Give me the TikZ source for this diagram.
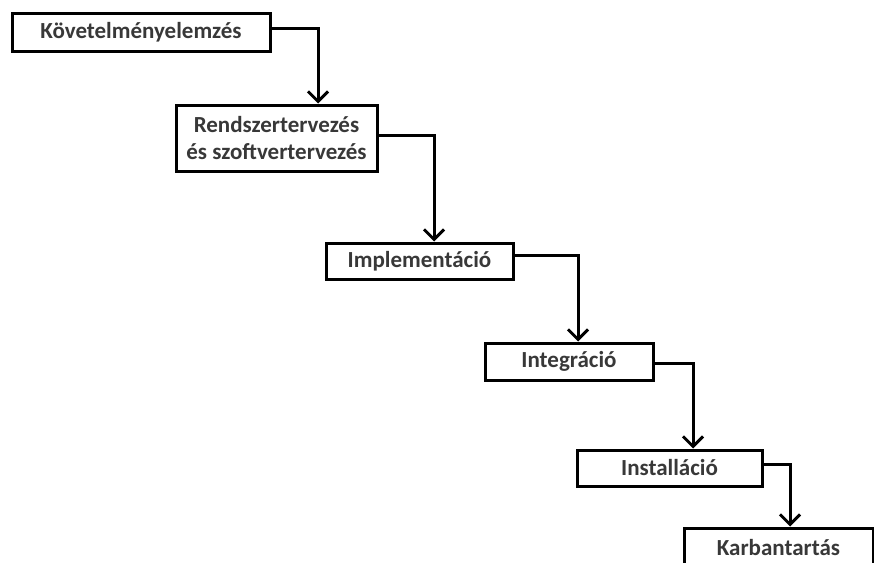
\documentclass[tikz,border=0pt]{standalone}
\usepackage{fontspec}
\setmainfont{Carlito}
\usetikzlibrary{arrows.meta}
\begin{document}
\begin{tikzpicture}[x=1pt,y=-1pt,
  stage/.style={draw=black, line width=3pt, fill=white, inner sep=0pt, align=center,
    text=black!78, font=\bfseries\fontsize{23}{27}\selectfont},
  arr/.style={draw=black, line width=3pt, -{Straight Barb[length=10pt,width=20pt,line width=3pt]}}]
\clip (0,0) rectangle (874,562);
\useasboundingbox (0,0) rectangle (874,562);
\node[stage, minimum width=258pt, minimum height=38pt] (b1) at (141,32) {Követelményelemzés};
\node[stage, minimum width=201pt, minimum height=66pt] (b2) at (276.5,138) {Rendszertervezés\\és szoftvertervezés};
\node[stage, minimum width=187pt, minimum height=36pt] (b3) at (419.5,261) {Implementáció};
\node[stage, minimum width=168pt, minimum height=37pt] (b4) at (569,361.5) {Integráció};
\node[stage, minimum width=185pt, minimum height=36pt] (b5) at (669.5,468) {Installáció};
\node[stage, minimum width=189pt, minimum height=40pt] (b6) at (778.5,548) {Karbantartás};
\draw[arr] ([yshift=4pt]b1.east) -| ([xshift=41.5pt]b2.north);
\draw[arr] ([yshift=3pt]b2.east) -| ([xshift=14.5pt]b3.north);
\draw[arr] ([yshift=6pt]b3.east) -| ([xshift=9pt]b4.north);
\draw[arr] ([yshift=-1.5pt]b4.east) -| ([xshift=23.5pt]b5.north);
\draw[arr] ([yshift=4pt]b5.east) -| ([xshift=11.5pt]b6.north);
\end{tikzpicture}
\end{document}
